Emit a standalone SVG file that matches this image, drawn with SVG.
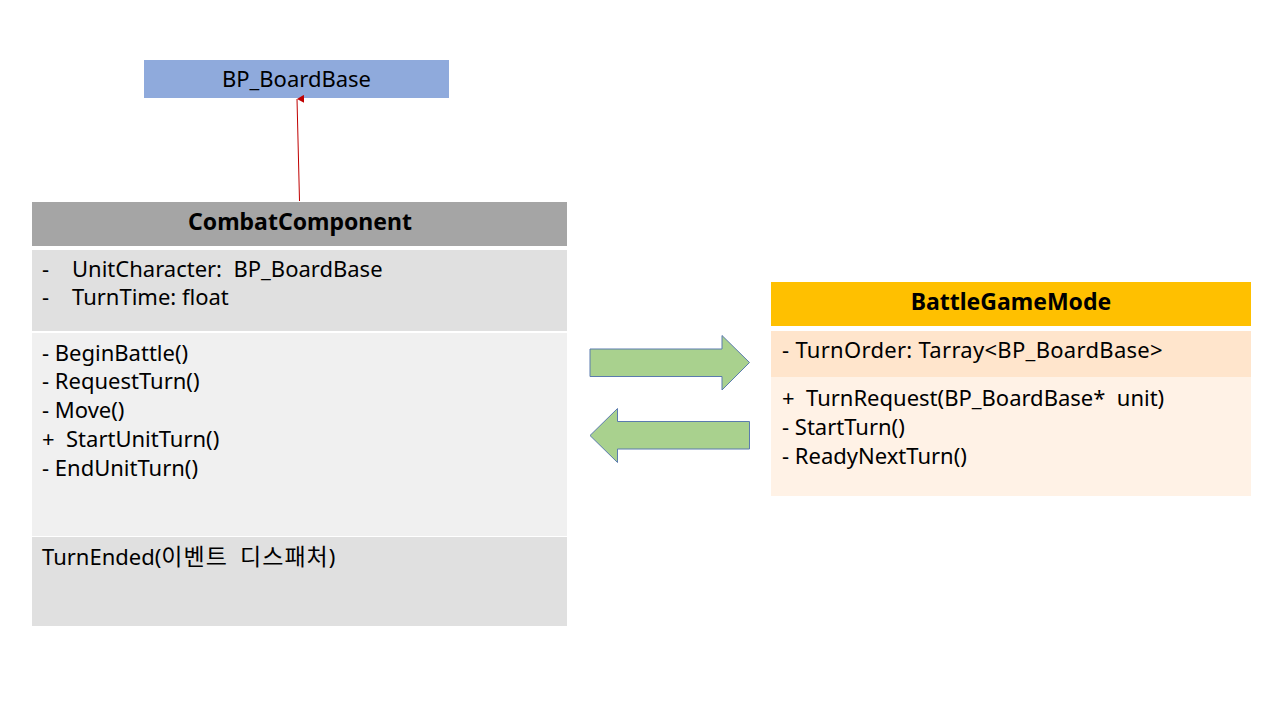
<svg xmlns="http://www.w3.org/2000/svg" width="1280" height="720" viewBox="0 0 1280 720">
<defs>
<style>
text{font-family:"Noto Sans","Noto Sans CJK KR",sans-serif;font-size:22px;fill:#000;white-space:pre}
.b{font-weight:bold;font-size:23px}
.c{text-anchor:middle}
.k{font-family:"Noto Sans CJK KR",sans-serif;font-size:23px;letter-spacing:1px}
.arr{fill:#A9D18E;stroke:#5B7BAE;stroke-width:1}
</style>
<marker id="ah" viewBox="0 0 8 7" refX="4" refY="0" markerWidth="8" markerHeight="7" markerUnits="userSpaceOnUse" orient="auto-start-reverse">
<path d="M0,7 L4,0 L8,7 Z" fill="#C00000"/>
</marker>
</defs>
<rect width="1280" height="720" fill="#fff"/>
<g id="BP_BoardBase">
<rect x="144" y="60" width="305" height="38" fill="#8FAADC"/>
<text class="c" x="296.5" y="87">BP_BoardBase</text>
</g>
<g id="CombatComponent">
<rect x="32" y="202" width="535" height="44" fill="#A5A5A5"/>
<text class="b c" x="300" y="230">CombatComponent</text>
<rect x="32" y="250" width="535" height="81" fill="#E0E0E0"/>
<text x="42" y="277">-</text><text x="72" y="277">UnitCharacter:  BP_BoardBase</text>
<text x="42" y="305">-</text><text x="72" y="305">TurnTime: float</text>
<rect x="32" y="333" width="535" height="203" fill="#F0F0F0"/>
<text x="42" y="361">- BeginBattle()</text>
<text x="42" y="389">- RequestTurn()</text>
<text x="42" y="418">- Move()</text>
<text x="42" y="447">+  StartUnitTurn()</text>
<text x="42" y="476">- EndUnitTurn()</text>
<rect x="32" y="537" width="535" height="89" fill="#E0E0E0"/>
<text x="42" y="565">TurnEnded(<tspan class="k">이벤트  디스패처</tspan>)</text>
</g>
<g id="BattleGameMode">
<rect x="771" y="282" width="480" height="44" fill="#FFC000"/>
<text class="b c" x="1011" y="310">BattleGameMode</text>
<rect x="771" y="331" width="480" height="46" fill="#FFE5CC"/>
<text x="782" y="358" style="letter-spacing:0.3px">- TurnOrder: Tarray&lt;BP_BoardBase&gt;</text>
<rect x="771" y="377" width="480" height="119" fill="#FFF2E6"/>
<text x="782" y="406">+  TurnRequest(BP_BoardBase*  unit)</text>
<text x="782" y="435">- StartTurn()</text>
<text x="782" y="464">- ReadyNextTurn()</text>
</g>
<g id="connectors">
<line x1="299.5" y1="201" x2="297" y2="99" stroke="#C00000" stroke-width="1" marker-end="url(#ah)"/>
<path class="arr" d="M590,349 L722,349 L722,335.5 L749.5,362.5 L722,390 L722,376.5 L590,376.5 Z"/>
<path class="arr" d="M749.5,421.5 L617.5,421.5 L617.5,408.5 L590,435.5 L617.5,462.5 L617.5,449 L749.5,449 Z"/>
</g>
</svg>
